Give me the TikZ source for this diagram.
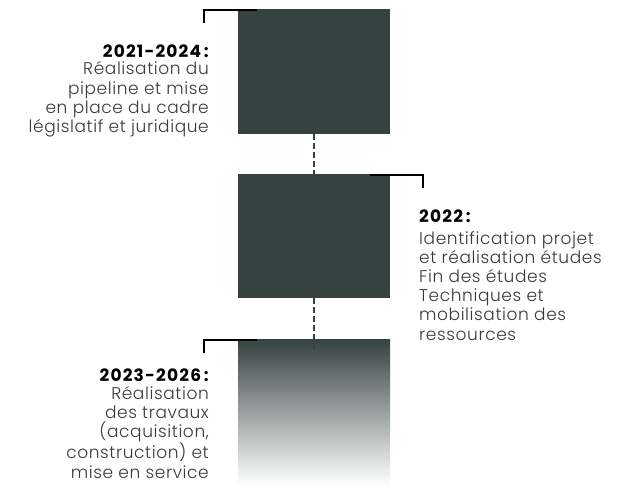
\documentclass[tikz,border=0pt]{standalone}
\usepackage{fontspec}
\setmainfont{Poppins}[UprightFont=* Light, BoldFont=* Bold, LetterSpace=3.5]
\usetikzlibrary{calc}
\definecolor{slate}{HTML}{354240}
\definecolor{txt}{HTML}{3A3A3A}
\begin{document}
\begin{tikzpicture}[x=1pt,y=-1pt]
\tikzset{
 box/.style={fill=slate, minimum width=152pt, inner sep=0pt, outer sep=0pt, anchor=north west},
 link/.style={draw=slate, line width=2.5pt, dash pattern=on 6pt off 3pt},
 brk/.style={draw=black, line width=2.5pt, line join=miter},
 head/.style={font=\fontsize{17}{19.2}\selectfont\bfseries\addfontfeature{LetterSpace=7}, text=black, inner sep=0pt},
 lbl/.style={font=\fontsize{17}{19.2}\selectfont, text=txt, inner sep=0pt},
}
\useasboundingbox (0,0) rectangle (627,493);
\node[box, minimum height=125pt] (b1) at (238,9) {};
\node[box, minimum height=124pt] (b2) at (238,174) {};
\node[box, minimum height=146pt, fill=none, top color=slate, bottom color=white] (b3) at (238,339) {};
\coordinate (e3) at ($(b3.north)+(0,-13pt)$);
\draw[link] (b1.south) -- (b2.north);
\draw[link] (b2.south) -- (e3);
\draw[brk] ([xshift=19pt,yshift=-1pt]b1.north west) -- ++(-53,0) -- ++(0,13);
\draw[brk] ([xshift=-20pt,yshift=-1pt]b2.north east) -- ++(53,0) -- ++(0,13);
\draw[brk] ([xshift=19pt,yshift=-1pt]b3.north west) -- ++(-53,0) -- ++(0,13);
\node[head, anchor=base east] (h1) at (209,57.3) {2021-2024\,:};
\node[lbl, align=right, anchor=base east] (t1) at (209,132.5)
 {Réalisation du\\pipeline et mise\\en place du cadre\\législatif et juridique};
\node[head, anchor=base west] (h2) at (419,222) {2022\,:};
\node[lbl, align=left, anchor=base west] (t2) at (419,340)
 {Identification projet\\et réalisation études\\Fin des études\\Techniques et\\mobilisation des\\ressources};
\node[head, anchor=base east] (h3) at (209,381.7) {2023-2026\,:};
\node[lbl, align=right, anchor=base east] (t3) at (209,478)
 {Réalisation\\des travaux\\(acquisition,\\construction) et\\mise en service};
\end{tikzpicture}
\end{document}
